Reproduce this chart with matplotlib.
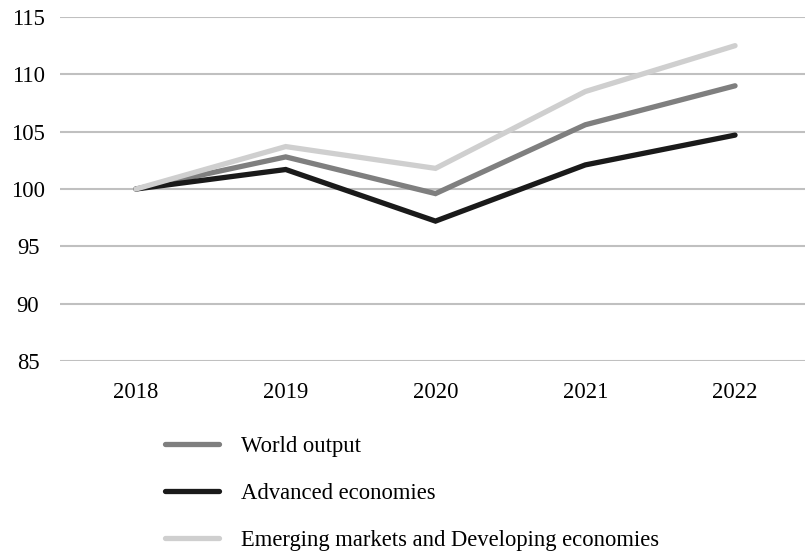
import matplotlib
matplotlib.use("Agg")
import matplotlib.pyplot as plt

years = ["2018", "2019", "2020", "2021", "2022"]
world_output = [100, 102.8, 99.6, 105.6, 109.0]
advanced = [100, 101.7, 97.2, 102.1, 104.7]
emerging = [100, 103.7, 101.8, 108.5, 112.5]
series_names = ["World output", "Advanced economies",
                "Emerging markets and Developing economies"]
y_ticks = [85, 90, 95, 100, 105, 110, 115]

plt.rcParams['font.family'] = ['Liberation Serif', 'DejaVu Serif']
fs = 16.3

fig = plt.figure(figsize=(8.05, 5.54), dpi=100)
ax = fig.add_axes([60/805, 1 - 361/554, 1 - 60/805, (361 - 17)/554])

x = list(range(len(years)))
lw = 3.8
l1, = ax.plot(x, world_output, color="#7f7f7f", lw=lw, solid_capstyle="round",
              solid_joinstyle="miter", zorder=3)
l2, = ax.plot(x, advanced, color="#1a1a1a", lw=lw, solid_capstyle="round",
              solid_joinstyle="miter", zorder=3)
l3, = ax.plot(x, emerging, color="#cfcfcf", lw=lw, solid_capstyle="round",
              solid_joinstyle="miter", zorder=3)

ax.set_ylim(85, 115)
ax.set_yticks(y_ticks)
ax.set_xlim(-0.507, 4.467)
ax.set_xticks(x)
ax.set_xticklabels(years)
ax.grid(axis="y", color="#c0c0c0", lw=1.5, zorder=0)
ax.set_axisbelow(True)
for s in ax.spines.values():
    s.set_visible(False)
ax.tick_params(axis="both", length=0, labelsize=fs, colors="#000000")
ax.tick_params(axis="y", pad=23)
ax.tick_params(axis="x", pad=15)
for lab in ax.get_yticklabels():
    lab.set_horizontalalignment("center")

fig.legend([l1, l2, l3], series_names, loc="upper left",
           bbox_to_anchor=(165/805, 1 - 436/554), frameon=False,
           fontsize=fs, handlelength=2.4, handletextpad=0.95,
           labelspacing=1.15, borderpad=0, borderaxespad=0)

fig.savefig("out.png", dpi=100)
